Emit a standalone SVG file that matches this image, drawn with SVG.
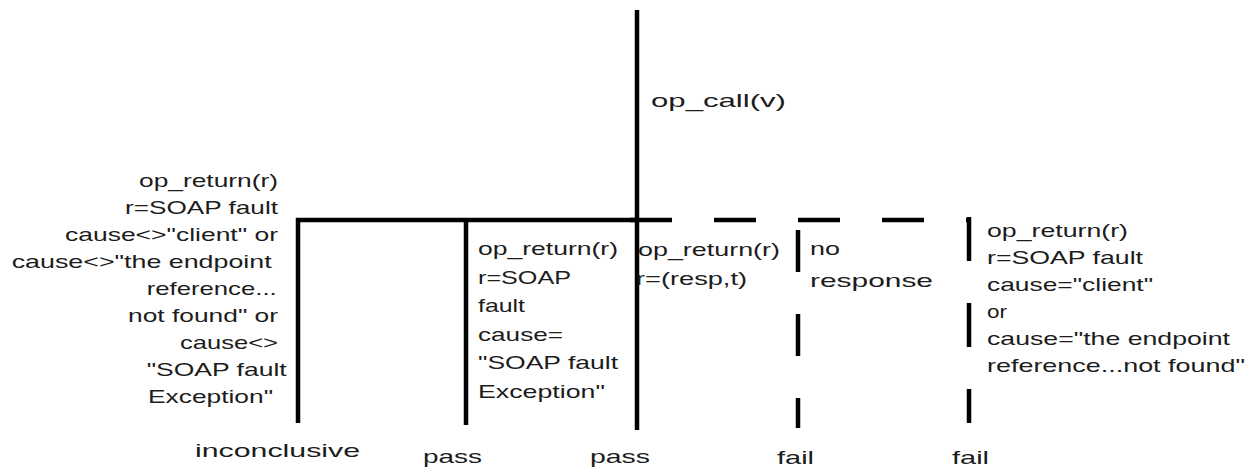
<svg xmlns="http://www.w3.org/2000/svg" width="1256" height="468" viewBox="0 0 1256 468">
<style>
  text { font-family: "Liberation Sans", Arial, sans-serif; font-size: 19px; fill: #1c1c1c; }
  .solid { stroke: #000; stroke-width: 4.5; fill: none; }
  .dash { stroke: #000; stroke-width: 4.5; fill: none; stroke-dasharray: 42 42; }
  .dash2 { stroke: #000; stroke-width: 4.5; fill: none; stroke-dasharray: 44 42; }
</style>
<rect width="1256" height="468" fill="#fff"/>
<g id="connectors">
  <line class="solid" x1="637" y1="10" x2="637" y2="430"/>
  <line class="solid" x1="296" y1="220" x2="639" y2="220"/>
  <line class="solid" x1="298" y1="218" x2="298" y2="423"/>
  <line class="solid" x1="466" y1="220" x2="466" y2="425"/>
  <path class="dash" d="M630,220 H970"/>
  <path class="dash" d="M798,230 V428"/>
  <path class="dash2" d="M969,217 V423"/>
</g>
<g id="call">
  <text x="651" y="107" textLength="135" lengthAdjust="spacingAndGlyphs">op_call(v)</text>
</g>
<g id="inconclusive-branch">
  <text x="139" y="186.5" textLength="139" lengthAdjust="spacingAndGlyphs">op_return(r)</text>
  <text x="125" y="213.5" textLength="153" lengthAdjust="spacingAndGlyphs">r=SOAP fault</text>
  <text x="65" y="240.5" textLength="213" lengthAdjust="spacingAndGlyphs">cause&lt;&gt;"client" or</text>
  <text x="11.7" y="267.5" textLength="260" lengthAdjust="spacingAndGlyphs">cause&lt;&gt;"the endpoint</text>
  <text x="146.7" y="294.5" textLength="130" lengthAdjust="spacingAndGlyphs">reference...</text>
  <text x="128" y="321.5" textLength="150" lengthAdjust="spacingAndGlyphs">not found" or</text>
  <text x="180" y="348.5" textLength="98" lengthAdjust="spacingAndGlyphs">cause&lt;&gt;</text>
  <text x="146.7" y="375.5" textLength="140" lengthAdjust="spacingAndGlyphs">"SOAP fault</text>
  <text x="148" y="402.5" textLength="125" lengthAdjust="spacingAndGlyphs">Exception"</text>
</g>
<g id="pass-fault-branch">
  <text x="478" y="255" textLength="140" lengthAdjust="spacingAndGlyphs">op_return(r)</text>
  <text x="478" y="283.5" textLength="93" lengthAdjust="spacingAndGlyphs">r=SOAP</text>
  <text x="478" y="312" textLength="47" lengthAdjust="spacingAndGlyphs">fault</text>
  <text x="478" y="340.5" textLength="85" lengthAdjust="spacingAndGlyphs">cause=</text>
  <text x="478" y="369" textLength="140" lengthAdjust="spacingAndGlyphs">"SOAP fault</text>
  <text x="478" y="397.5" textLength="127" lengthAdjust="spacingAndGlyphs">Exception"</text>
</g>
<g id="pass-resp-branch">
  <text x="638" y="256" textLength="142" lengthAdjust="spacingAndGlyphs">op_return(r)</text>
  <text x="636" y="285" textLength="111" lengthAdjust="spacingAndGlyphs">r=(resp,t)</text>
</g>
<g id="no-response-branch">
  <text x="810" y="255" textLength="30" lengthAdjust="spacingAndGlyphs">no</text>
  <text x="810" y="287" textLength="123" lengthAdjust="spacingAndGlyphs">response</text>
</g>
<g id="fail-fault-branch">
  <text x="987" y="237" textLength="141" lengthAdjust="spacingAndGlyphs">op_return(r)</text>
  <text x="987" y="264" textLength="156" lengthAdjust="spacingAndGlyphs">r=SOAP fault</text>
  <text x="987" y="291" textLength="166" lengthAdjust="spacingAndGlyphs">cause="client"</text>
  <text x="987" y="318" textLength="20" lengthAdjust="spacingAndGlyphs">or</text>
  <text x="987" y="345" textLength="243" lengthAdjust="spacingAndGlyphs">cause="the endpoint</text>
  <text x="987" y="372" textLength="258" lengthAdjust="spacingAndGlyphs">reference...not found"</text>
</g>
<g id="verdict-inconclusive"><text x="195" y="457" textLength="165" lengthAdjust="spacingAndGlyphs">inconclusive</text></g>
<g id="verdict-pass-1"><text x="423" y="463" textLength="59" lengthAdjust="spacingAndGlyphs">pass</text></g>
<g id="verdict-pass-2"><text x="590" y="463" textLength="60" lengthAdjust="spacingAndGlyphs">pass</text></g>
<g id="verdict-fail-1"><text x="777" y="464" textLength="37" lengthAdjust="spacingAndGlyphs">fail</text></g>
<g id="verdict-fail-2"><text x="952" y="464" textLength="37" lengthAdjust="spacingAndGlyphs">fail</text></g>
</svg>
